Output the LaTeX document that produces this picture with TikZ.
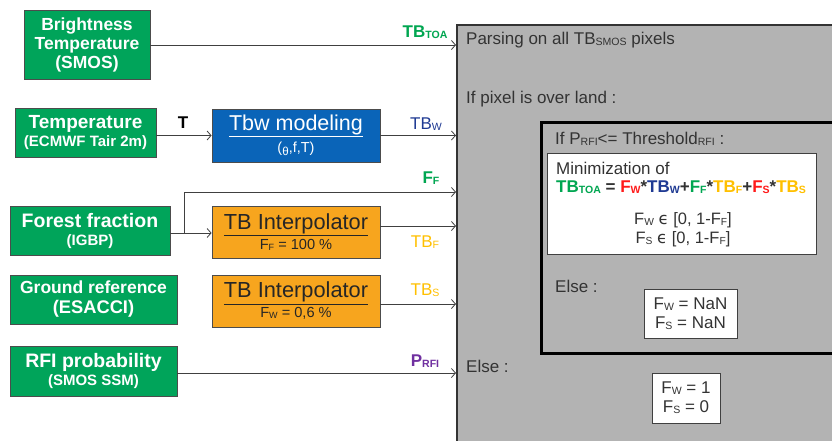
\documentclass[tikz,border=0pt]{standalone}
\usepackage{fontspec}
\setmainfont{Liberation Sans}
\newfontfamily\dejavu{DejaVu Sans}
\usetikzlibrary{arrows.meta}
\definecolor{srcgreen}{HTML}{00A45A}
\definecolor{modblue}{HTML}{0A64B8}
\definecolor{interp}{HTML}{F7A51E}
\definecolor{boxgray}{HTML}{B3B3B3}
\definecolor{txtgray}{HTML}{333333}
\definecolor{lblgreen}{HTML}{00A651}
\definecolor{lblblue}{HTML}{1F3A93}
\definecolor{lblyellow}{HTML}{FFC000}
\definecolor{lblpurple}{HTML}{7030A0}
\definecolor{eqred}{HTML}{FF1A1A}
\newcommand\sbs[1]{\raisebox{-0.1ex}{\scalebox{0.62}{#1}}}
\newcommand\fs[1]{\fontsize{#1}{#1}\selectfont}
\tikzset{
  src/.style={draw=black!70, line width=0.8pt, fill=srcgreen, text=white, align=center, inner sep=0pt},
  proc/.style={draw=black!70, line width=0.8pt, align=center, inner sep=0pt, minimum width=168pt, minimum height=52pt},
  arr/.style={draw=black!75, line width=0.8pt, -{Straight Barb[length=4pt,width=9pt]}},
  lbl/.style={inner sep=0pt, font=\fs{17}},
  blbl/.style={inner sep=0pt, font=\fs{17}\bfseries},
  gtxt/.style={inner sep=0pt, anchor=west, text=txtgray, font=\fs{17}},
  wbox/.style={draw=black!75, line width=0.8pt, fill=white, inner sep=0pt, align=center, text=txtgray, font=\fontsize{17}{19}\selectfont},
}
\begin{document}
\begin{tikzpicture}[x=1pt,y=-1pt]
\useasboundingbox (0,0) rectangle (832,440);
\clip (0,0) rectangle (832,440);
\fill[white] (0,0) rectangle (832,440);

% big gray box
\node[draw=txtgray, line width=2pt, fill=boxgray, inner sep=0pt, minimum width=400pt, minimum height=440pt, anchor=north west] (gray) at (456,24) {};
% inner black box
\node[draw=black, line width=2.6pt, fill=boxgray, inner sep=0pt, minimum width=320pt, minimum height=231pt, anchor=north west] (inner) at (540,121) {};
% minimization box
\node[draw=black!75, line width=0.8pt, fill=white, inner sep=0pt, minimum width=269pt, minimum height=101pt, anchor=north west] (minbox) at (547,153) {};
\node[wbox, minimum width=93pt, minimum height=49pt] (nanbox) at (690.5,313.5) {F\sbs{W} = NaN\\F\sbs{S} = NaN};
\node[wbox, minimum width=68pt, minimum height=50pt] (onebox) at (686,398) {F\sbs{W} = 1\\F\sbs{S} = 0};

% texts in gray boxes
\node[gtxt] (t1) at (466,40) {Parsing on all TB\sbs{SMOS} pixels};
\node[gtxt] (t2) at (466,99) {If pixel is over land :};
\node[gtxt] (t3) at (555,139) {If P\sbs{RFI}<= Threshold\sbs{RFI} :};
\node[gtxt] (t4) at (556,168) {Minimization of};
\node[gtxt, font=\fs{17}\bfseries] (t5) at (556,187) {\textcolor{lblgreen}{TB\sbs{TOA}} = \textcolor{eqred}{F\sbs{W}}*\textcolor{lblblue}{TB\sbs{W}}+\textcolor{lblgreen}{F\sbs{F}}*\textcolor{lblyellow}{TB\sbs{F}}+\textcolor{eqred}{F\sbs{S}}*\textcolor{lblyellow}{TB\sbs{S}}};
\node[gtxt, anchor=center, font=\fs{16.5}] (t6) at (683,220) {F\sbs{W} {\dejavu ϵ} [0, 1-F\sbs{F}]};
\node[gtxt, anchor=center, font=\fs{16.5}] (t7) at (683,239) {F\sbs{S} {\dejavu ϵ} [0, 1-F\sbs{F}]};
\node[gtxt] (t8) at (555,286) {Else :};
\node[gtxt] (t9) at (466,366) {Else :};

% source boxes
\node[src, minimum width=126pt, minimum height=69pt, font=\fontsize{17.5}{19}\selectfont\bfseries] (bt) at (87,44.5) {Brightness\\Temperature\\(SMOS)};
\node[src, minimum width=141pt, minimum height=49pt, font=\fontsize{19}{18}\selectfont\bfseries] (temp) at (85.5,132.5) {Temperature\\{\fs{15}(ECMWF Tair 2m)}};
\node[src, minimum width=160pt, minimum height=49pt, font=\fontsize{19.5}{18}\selectfont\bfseries] (forest) at (90,230.5) {Forest fraction\\{\fs{15}(IGBP)}};
\node[src, minimum width=167pt, minimum height=49pt, font=\fontsize{17.5}{20}\selectfont\bfseries] (ground) at (93.5,299.5) {Ground reference\\{\fs{18.3}(ESACCI)}};
\node[src, minimum width=167pt, minimum height=50pt, font=\fontsize{19.5}{18}\selectfont\bfseries] (rfi) at (93.5,371) {RFI probability\\{\fs{15}(SMOS SSM)}};

% processing boxes
\node[proc, fill=modblue, text=white, minimum height=53pt, font=\fontsize{21.5}{22}\selectfont] (tbw) at (296,135.5) {\underline{Tbw modeling}\\{\fs{14.5}(\raisebox{-0.3ex}{\scalebox{0.8}{θ}},f,T)}};
\node[proc, fill=interp, text=black!85, font=\fontsize{21.8}{20}\selectfont] (or1) at (296,232) {\underline{TB Interpolator}\\{\fs{14.6}F\sbs{F} = 100 \%}};
\node[proc, fill=interp, text=black!85, font=\fontsize{21.8}{20}\selectfont] (or2) at (296,301) {\underline{TB Interpolator}\\{\fs{14.6}F\sbs{W} = 0,6 \%}};

% connectors
\draw[arr] (bt.east |- 0,45) -- (gray.west |- 0,45);
\draw[arr] (temp.east |- tbw.west) -- (tbw.west);
\draw[arr] (tbw.east) -- (tbw.east -| gray.west);
\draw[arr] (forest.east |- 0,233) -- (or1.west |- 0,233);
\coordinate (br) at (184,233);
\coordinate (fftop) at (184,192);
\draw[arr] (br) -- (fftop) -- (fftop -| gray.west);
\draw[arr] (or1.east |- 0,226) -- (gray.west |- 0,226);
\draw[arr] (or2.east |- 0,304) -- (gray.west |- 0,304);
\draw[arr] (rfi.east |- 0,373) -- (gray.west |- 0,373);

% connector labels
\node[blbl, text=lblgreen] (lTOA) at (425,32) {TB\sbs{TOA}};
\node[blbl] (lT) at (183,123) {T};
\node[lbl, text=lblblue] (lW) at (426,124) {TB\sbs{W}};
\node[blbl, text=lblgreen] (lF) at (431,178) {F\sbs{F}};
\node[lbl, text=lblyellow] (lTBF) at (425,242) {TB\sbs{F}};
\node[lbl, text=lblyellow] (lTBS) at (425,290) {TB\sbs{S}};
\node[blbl, text=lblpurple] (lP) at (425,361) {P\sbs{RFI}};
\end{tikzpicture}
\end{document}
